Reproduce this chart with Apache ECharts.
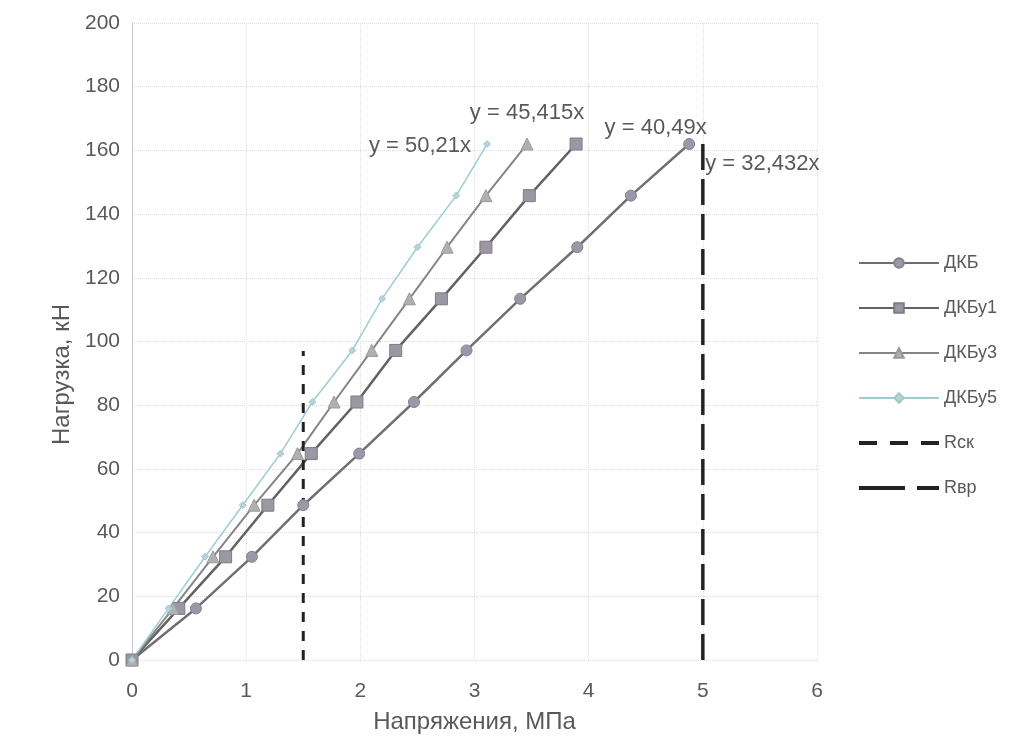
<!DOCTYPE html>
<html>
<head>
<meta charset="utf-8">
<script src="https://cdn.jsdelivr.net/npm/echarts@6/dist/echarts.min.js"></script>
<style>
  html, body { margin: 0; padding: 0; background: #fff; }
  #chart { width: 1026px; height: 749px; }
</style>
</head>
<body>
<div id="chart"></div>
<script>
// loads shared by all specimens, kN
const loads = [0, 16.2, 32.4, 48.6, 64.8, 81, 97.2, 113.4, 129.6, 145.8, 162]
// stresses, MPa
const dkb = [0, 0.56, 1.05, 1.5, 1.99, 2.47, 2.93, 3.4, 3.9, 4.37, 4.88]
const dkbu1 = [0, 0.41, 0.82, 1.19, 1.57, 1.97, 2.31, 2.71, 3.1, 3.48, 3.89]
const dkbu3 = [0, 0.36, 0.71, 1.07, 1.45, 1.77, 2.1, 2.43, 2.76, 3.1, 3.46]
const dkbu5 = [0, 0.32, 0.64, 0.97, 1.3, 1.58, 1.93, 2.19, 2.5, 2.84, 3.11]
const rsk = [[1.5, 0], [1.5, 97]]
const rvr = [[5, 0], [5, 162]]
const trendLabels = ['y = 32,432x', 'y = 40,49x', 'y = 45,415x', 'y = 50,21x']

const txt = '#595959'
const font = 'Liberation Sans'

function pairs(xs) {
  return xs.map((x, i) => [x, loads[i]])
}

function withEndLabel(xs, text, label) {
  const d = pairs(xs).map((p) => ({ value: p }))
  d[d.length - 1].label = Object.assign({ show: true, formatter: text, color: txt, fontSize: 22, fontFamily: font }, label)
  return d
}

const chart = echarts.init(document.getElementById('chart'))
chart.setOption({
  animation: false,
  grid: { left: 132, right: 209, top: 23, bottom: 89 },
  legend: {
    orient: 'vertical',
    left: 853,
    top: 249,
    itemWidth: 80,
    itemHeight: 12,
    itemGap: 27,
    textStyle: { color: txt, fontSize: 18, fontFamily: font },
    data: [
      'ДКБ',
      'ДКБу1',
      'ДКБу3',
      'ДКБу5',
      { name: 'Rск', icon: 'path://M0,0h18v4h-18z M31,0h18v4h-18z M62,0h18v4h-18z' },
      { name: 'Rвр', icon: 'path://M0,0h46v4h-46z M58,0h22v4h-22z' },
    ],
  },
  xAxis: {
    type: 'value',
    min: 0,
    max: 6,
    interval: 1,
    name: 'Напряжения, МПа',
    nameLocation: 'middle',
    nameGap: 50,
    nameTextStyle: { color: txt, fontSize: 24, fontFamily: font },
    axisLine: { show: false },
    axisTick: { show: false },
    axisLabel: { color: txt, fontSize: 21, fontFamily: font, margin: 21 },
    splitLine: { lineStyle: { color: '#dcdcdc', type: 'dotted' } },
  },
  yAxis: {
    type: 'value',
    min: 0,
    max: 200,
    interval: 20,
    name: 'Нагрузка, кН',
    nameLocation: 'middle',
    nameGap: 52,
    // title sits a little below the plot middle in the original
    nameTextStyle: { color: txt, fontSize: 24, fontFamily: font, padding: [0, 66, 0, 0] },
    axisLine: { show: true, lineStyle: { color: '#bdbdbd', type: 'dotted' } },
    axisTick: { show: false },
    axisLabel: { color: txt, fontSize: 21, fontFamily: font, margin: 12 },
    splitLine: { lineStyle: { color: '#dcdcdc', type: 'dotted' } },
  },
  series: [
    {
      name: 'ДКБ',
      type: 'line',
      data: withEndLabel(dkb, trendLabels[0], { position: 'right', distance: 10, offset: [0, 20] }),
      symbol: 'circle',
      symbolSize: 11,
      lineStyle: { color: '#707070', width: 2.5 },
      itemStyle: { color: '#9d97a8', borderColor: '#85808f', borderWidth: 1 },
    },
    {
      name: 'ДКБу1',
      type: 'line',
      data: withEndLabel(dkbu1, trendLabels[1], { position: 'right', distance: 22, offset: [0, -16] }),
      symbol: 'rect',
      symbolSize: 12,
      lineStyle: { color: '#626262', width: 2.5 },
      itemStyle: { color: '#9b98a3', borderColor: '#7e7b87', borderWidth: 1 },
    },
    {
      name: 'ДКБу3',
      type: 'line',
      data: withEndLabel(dkbu3, trendLabels[2], { position: 'top', distance: 14 }),
      symbol: 'triangle',
      symbolSize: 12,
      lineStyle: { color: '#858585', width: 2 },
      itemStyle: { color: '#b0b0b0', borderColor: '#999', borderWidth: 1 },
    },
    {
      name: 'ДКБу5',
      type: 'line',
      data: withEndLabel(dkbu5, trendLabels[3], { position: 'left', distance: 12, offset: [0, 2] }),
      symbol: 'diamond',
      symbolSize: 7,
      lineStyle: { color: '#9fcbd3', width: 1.5 },
      itemStyle: { color: '#b8d3d8', borderColor: '#a5c5cb', borderWidth: 1 },
    },
    {
      name: 'Rск',
      type: 'line',
      data: rsk,
      symbol: 'none',
      lineStyle: { color: '#222', width: 3, type: [10, 9] },
      itemStyle: { color: '#222' },
    },
    {
      name: 'Rвр',
      type: 'line',
      data: rvr,
      symbol: 'none',
      lineStyle: { color: '#222', width: 3.5, type: [26, 9] },
      itemStyle: { color: '#222' },
    },
  ],
})
</script>
</body>
</html>
